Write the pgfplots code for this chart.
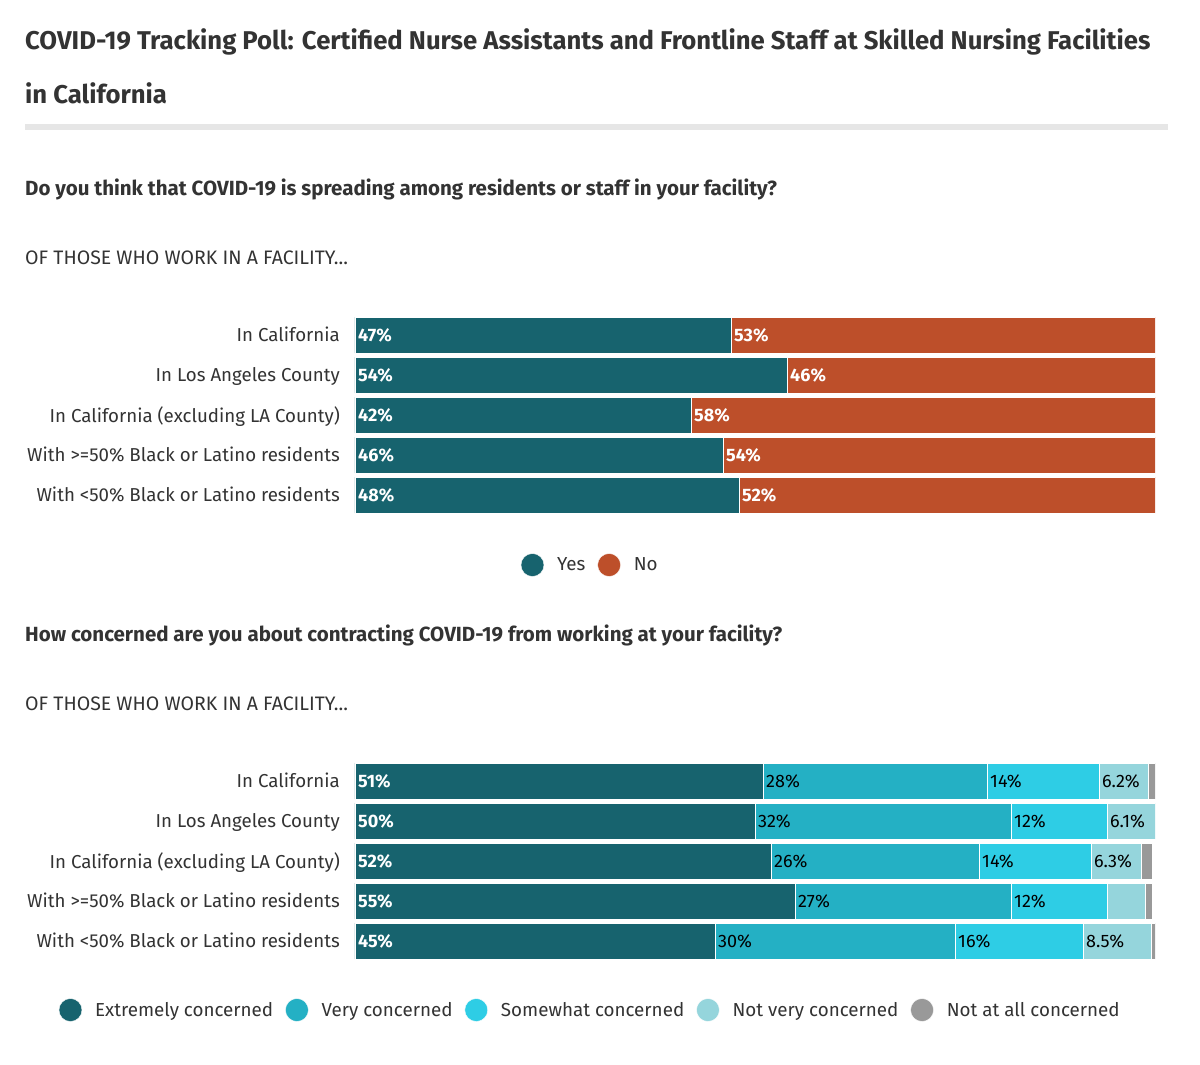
\documentclass[border=0pt]{standalone}
\usepackage{pgfplots}
\usepackage{pgfplotstable}
\pgfplotsset{compat=1.18}
\usepackage{fontspec}
\setmainfont{Fira Sans}
\definecolor{txt}{HTML}{333333}
\definecolor{cext}{HTML}{17636E}
\definecolor{cvery}{HTML}{24B0C4}
\definecolor{csome}{HTML}{2ECDE5}
\definecolor{cnotv}{HTML}{95D5DC}
\definecolor{cnot}{HTML}{999999}
\definecolor{cyes}{HTML}{17636E}
\definecolor{cno}{HTML}{BD4F2A}
\definecolor{rule}{HTML}{E6E6E6}

\pgfplotstableread{
row yes no
0 47 53
1 54 46
2 42 58
3 46 54
4 48 52
}\tabA

\pgfplotstableread{
row ext very some notv notat
0 51 28 14 6.2 0.8
1 50 32 12 6.1 0
2 52 26 14 6.3 1.4
3 55 27 12 4.8 0.8
4 45 30 16 8.5 0.5
}\tabB

\pgfplotsset{
  barax/.style={
    xbar stacked,
    scale only axis,
    width=800pt, height=200pt,
    xmin=0, xmax=100,
    ymin=-0.5, ymax=4.5,
    y dir=reverse,
    bar width=0.9,
    axis line style={draw=none},
    major tick length=0pt,
    xtick=\empty,
    ytick={0,1,2,3,4},
    yticklabels={In California, In Los Angeles County, In California (excluding LA County), With >=50\% Black or Latino residents, With <50\% Black or Latino residents},
    typeset ticklabels with strut,
    yticklabel style={font=\fontsize{18.7}{22}\selectfont, text=txt, inner sep=0pt, xshift=-15pt, yshift=-2.5pt},
    legend image code/.code={\fill[##1] (0pt,0pt) circle (11.5pt);},
    legend style={draw=none, fill=none, font=\fontsize{18.8}{22}\selectfont, text=txt,
      legend columns=-1,
      /tikz/every even column/.append style={column sep=10pt},
      /tikz/every odd column/.append style={column sep=11pt}},
  },
  labax/.style={
    scale only axis,
    width=800pt, height=200pt,
    xmin=0, xmax=100,
    ymin=-0.5, ymax=4.5,
    y dir=reverse,
    hide axis,
  },
  lab/.style={draw=none, mark=none, nodes near coords={\pgfmathprintnumber[assume math mode=true]{\pgfplotspointmeta}\%}, point meta=explicit,
    every node near coord/.style={anchor=west, inner sep=0pt, xshift=3pt, font=\fontsize{18}{21}\selectfont #1}},
}

\begin{document}
\begin{tikzpicture}
\fill[white] (0pt,0pt) rectangle (1200pt,-1065pt);
\path[use as bounding box] (0pt,0pt) rectangle (1200pt,-1065pt);

\node[anchor=base west, inner sep=0pt, text=txt, font=\fontsize{25.7}{30}\selectfont\bfseries] at (25pt,-50pt) {COVID-19 Tracking Poll: Certified Nurse Assistants and Frontline Staff at Skilled Nursing Facilities};
\node[anchor=base west, inner sep=0pt, text=txt, font=\fontsize{25.7}{30}\selectfont\bfseries] at (25pt,-103pt) {in California};
\fill[rule] (25pt,-124pt) rectangle (1168pt,-130pt);

\node[anchor=base west, inner sep=0pt, text=txt, font=\fontsize{20.5}{24}\selectfont\bfseries] at (25pt,-195pt) {Do you think that COVID-19 is spreading among residents or staff in your facility?};
\node[anchor=base west, inner sep=0pt, text=txt, font=\fontsize{19.5}{23}\selectfont] at (25pt,-264pt) {OF THOSE WHO WORK IN A FACILITY...};

\node[anchor=base west, inner sep=0pt, text=txt, font=\fontsize{20.5}{24}\selectfont\bfseries] at (25pt,-641pt) {How concerned are you about contracting COVID-19 from working at your facility?};
\node[anchor=base west, inner sep=0pt, text=txt, font=\fontsize{19.5}{23}\selectfont] at (25pt,-710pt) {OF THOSE WHO WORK IN A FACILITY...};

% Chart 1
\begin{axis}[barax, at={(355pt,-315pt)}, anchor=north west,
  legend style={at={(axis description cs:0.294,-0.25)}, anchor=center}]
\addplot[fill=cyes, draw=white, line width=0.4pt] table[x=yes, y=row] {\tabA};
\addplot[fill=cno, draw=white, line width=0.4pt] table[x=no, y=row] {\tabA};
\legend{Yes, No}
\end{axis}
\begin{axis}[labax, at={(355pt,-315pt)}, anchor=north west]
\addplot[lab={\bfseries\color{white}}] table[x expr=0, y=row, meta=yes] {\tabA};
\addplot[lab={\bfseries\color{white}}] table[x=yes, y=row, meta=no] {\tabA};
\end{axis}

% Chart 2
\begin{axis}[barax, at={(355pt,-761pt)}, anchor=north west,
  legend style={at={(axis description cs:0.294,-0.245)}, anchor=center}]
\addplot[fill=cext, draw=white, line width=0.4pt] table[x=ext, y=row] {\tabB};
\addplot[fill=cvery, draw=white, line width=0.4pt] table[x=very, y=row] {\tabB};
\addplot[fill=csome, draw=white, line width=0.4pt] table[x=some, y=row] {\tabB};
\addplot[fill=cnotv, draw=white, line width=0.4pt] table[x=notv, y=row] {\tabB};
\addplot[fill=cnot, draw=white, line width=0.4pt] table[x=notat, y=row] {\tabB};
\legend{Extremely concerned, Very concerned, Somewhat concerned, Not very concerned, Not at all concerned}
\end{axis}
\begin{axis}[labax, at={(355pt,-761pt)}, anchor=north west]
\addplot[lab={\bfseries\color{white}}] table[x expr=0, y=row, meta=ext] {\tabB};
\addplot[lab={\color{black}}] table[x=ext, y=row, meta=very] {\tabB};
\addplot[lab={\color{black}}] table[x expr=\thisrow{ext}+\thisrow{very}, y=row, meta=some] {\tabB};
\addplot[lab={\color{black}}, skip coords between index={3}{4}] table[x expr=\thisrow{ext}+\thisrow{very}+\thisrow{some}, y=row, meta=notv] {\tabB};
\end{axis}
\end{tikzpicture}
\end{document}
